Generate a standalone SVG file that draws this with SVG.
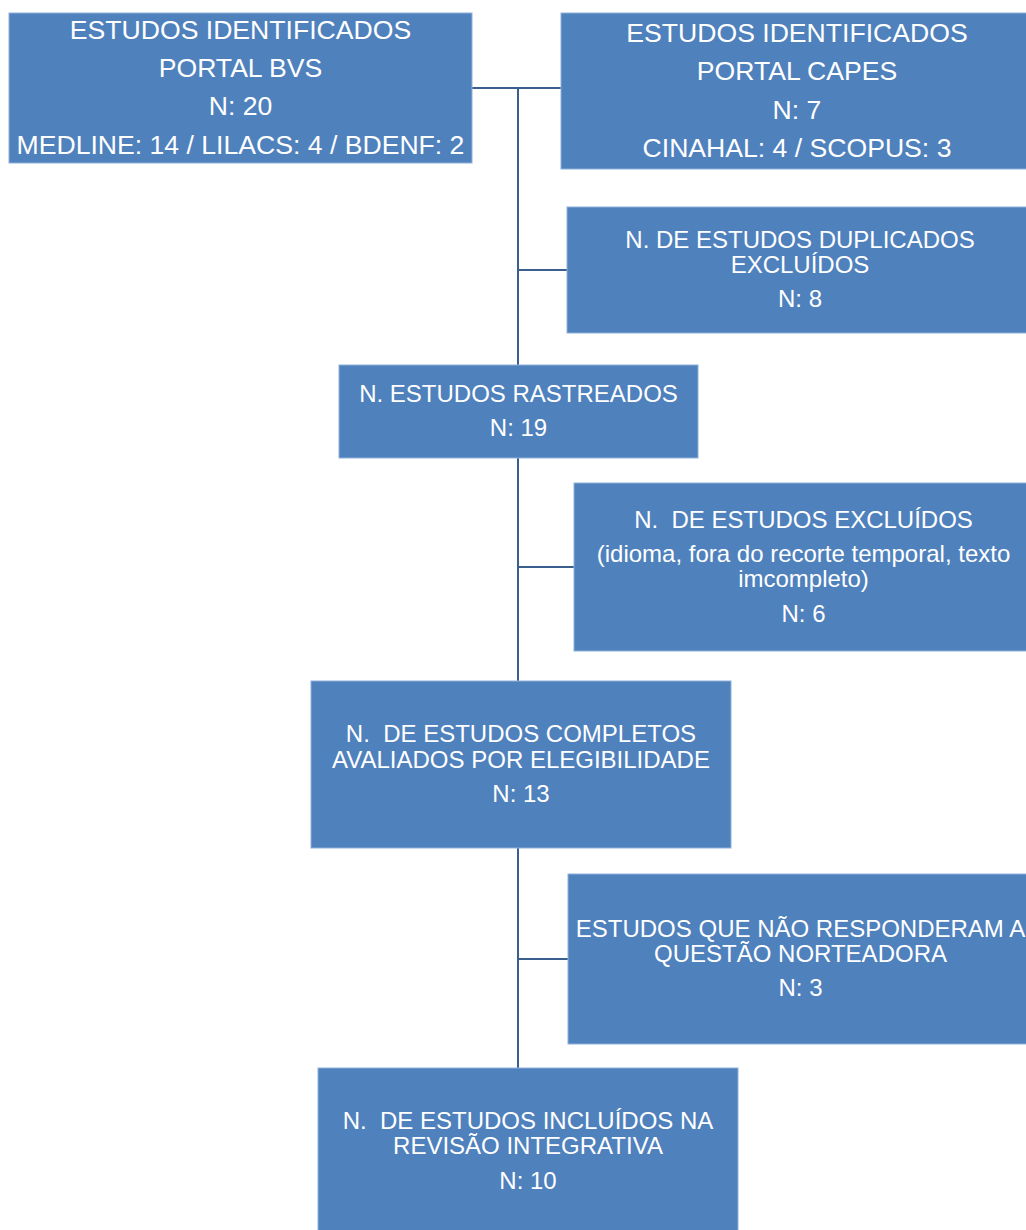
<svg xmlns="http://www.w3.org/2000/svg" width="1026" height="1230" viewBox="0 0 1026 1230">
<style>
.box{fill:#4F81BD;stroke:#8FB0DA;stroke-width:1}
.t{font-family:"Liberation Sans",Arial,sans-serif;fill:#FFFFFF;text-anchor:middle;white-space:pre}
.big{font-size:26.6px}
.sm{font-size:24px}
.conn{stroke:#3A5F8F;stroke-width:2;fill:none}
</style>
<rect width="1026" height="1230" fill="#FFFFFF"/>
<g id="connectors">
<path class="conn" d="M472 88H561"/>
<path class="conn" d="M518 88V365"/>
<path class="conn" d="M518 270H567"/>
<path class="conn" d="M518 458V681"/>
<path class="conn" d="M518 567H574"/>
<path class="conn" d="M518 848V1068"/>
<path class="conn" d="M518 959H568"/>
</g>
<g id="bvs">
<rect class="box" x="9" y="13" width="463" height="150"/>
<text class="t big" x="240.5" y="39">ESTUDOS IDENTIFICADOS</text>
<text class="t big" x="240.5" y="77">PORTAL BVS</text>
<text class="t big" x="240.5" y="115">N: 20</text>
<text class="t big" x="240.5" y="154">MEDLINE: 14 / LILACS: 4 / BDENF: 2</text>
</g>
<g id="capes">
<rect class="box" x="561" y="13" width="470" height="156"/>
<text class="t big" x="797" y="42">ESTUDOS IDENTIFICADOS</text>
<text class="t big" x="797" y="80">PORTAL CAPES</text>
<text class="t big" x="797" y="119">N: 7</text>
<text class="t big" x="797" y="157">CINAHAL: 4 / SCOPUS: 3</text>
</g>
<g id="duplicados">
<rect class="box" x="567" y="207" width="464" height="126"/>
<text class="t sm" x="800" y="248">N. DE ESTUDOS DUPLICADOS</text>
<text class="t sm" x="800" y="273">EXCLUÍDOS</text>
<text class="t sm" x="800" y="307">N: 8</text>
</g>
<g id="rastreados">
<rect class="box" x="339" y="365" width="359" height="93"/>
<text class="t sm" x="518.5" y="402">N. ESTUDOS RASTREADOS</text>
<text class="t sm" x="518.5" y="436">N: 19</text>
</g>
<g id="excluidos">
<rect class="box" x="574" y="483" width="457" height="168"/>
<text class="t sm" x="803.5" y="528">N.  DE ESTUDOS EXCLUÍDOS</text>
<text class="t sm" x="803.5" y="562">(idioma, fora do recorte temporal, texto</text>
<text class="t sm" x="803.5" y="587">imcompleto)</text>
<text class="t sm" x="803.5" y="622">N: 6</text>
</g>
<g id="completos">
<rect class="box" x="311" y="681" width="420" height="167"/>
<text class="t sm" x="521" y="742">N.  DE ESTUDOS COMPLETOS</text>
<text class="t sm" x="521" y="768">AVALIADOS POR ELEGIBILIDADE</text>
<text class="t sm" x="521" y="802">N: 13</text>
</g>
<g id="nao-responderam">
<rect class="box" x="568" y="874" width="463" height="170"/>
<text class="t sm" x="800.5" y="937">ESTUDOS QUE NÃO RESPONDERAM A</text>
<text class="t sm" x="800.5" y="962">QUESTÃO NORTEADORA</text>
<text class="t sm" x="800.5" y="996">N: 3</text>
</g>
<g id="incluidos">
<rect class="box" x="318" y="1068" width="420" height="167"/>
<text class="t sm" x="528" y="1129">N.  DE ESTUDOS INCLUÍDOS NA</text>
<text class="t sm" x="528" y="1154">REVISÃO INTEGRATIVA</text>
<text class="t sm" x="528" y="1189">N: 10</text>
</g>
</svg>
